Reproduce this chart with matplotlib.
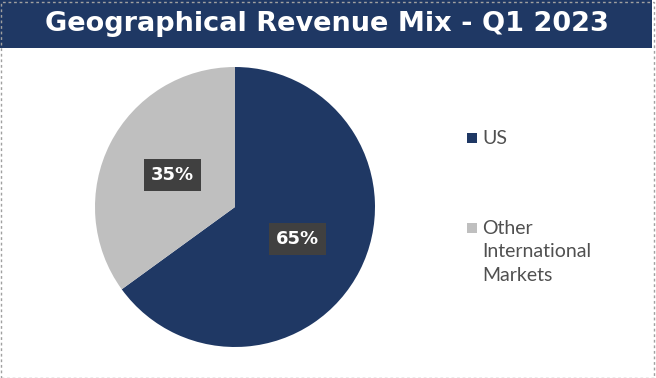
import matplotlib.pyplot as plt
from matplotlib.patches import Rectangle

# Data
regions = ['US', 'Other\nInternational\nMarkets']
shares = [65, 35]
colors = ['#1F3864', '#BFBFBF']

W, H = 656, 378
fig = plt.figure(figsize=(W / 100, H / 100), dpi=100)
fig.patch.set_facecolor('white')

# Title banner
fig.patches.append(Rectangle((0, 1 - 48 / H), 652 / W, 48 / H, transform=fig.transFigure,
                             facecolor='#1F3864', edgecolor='none', zorder=0))
fig.patches.append(Rectangle((0.5 / W, 0.5 / H), (W - 3) / W, (H - 2) / H, transform=fig.transFigure,
                             facecolor='none', edgecolor='#A0A0A0', linestyle=(0, (2, 2)), lw=1))
fig.text(327 / W, 1 - 24 / H, 'Geographical Revenue Mix - Q1 2023', color='white',
         fontsize=19.5, fontweight='bold', family='DejaVu Sans', ha='center', va='center')

# Pie
cx, cy, r = 235, H - 207, 140
ax = fig.add_axes([(cx - r) / W, (cy - r) / H, 2 * r / W, 2 * r / H])
wedges, texts, autotexts = ax.pie(shares, colors=colors, startangle=90, counterclock=False,
                                  autopct='%d%%', pctdistance=0.5, radius=1,
                                  wedgeprops=dict(linewidth=0))
for t in autotexts:
    t.set_color('white')
    t.set_fontsize(13)
    t.set_fontweight('bold')
    t.set_family('DejaVu Sans')
    t.set_bbox(dict(boxstyle='square,pad=0.4', facecolor='#404040', edgecolor='none'))
ax.set_xlim(-1, 1)
ax.set_ylim(-1, 1)
ax.set_aspect('equal')
ax.axis('off')

# Legend
leg_y = [138, 228]
for name, col, y in zip(regions, colors, leg_y):
    fig.patches.append(Rectangle((467 / W, 1 - (y + 5) / H), 10 / W, 10 / H,
                                 transform=fig.transFigure, facecolor=col, edgecolor='none'))
    fig.text(482 / W, 1 - (y - 8) / H, name, color='#505050', fontsize=14, family='Lato',
             ha='left', va='top', linespacing=1.45)

fig.savefig('out.png', dpi=100)
